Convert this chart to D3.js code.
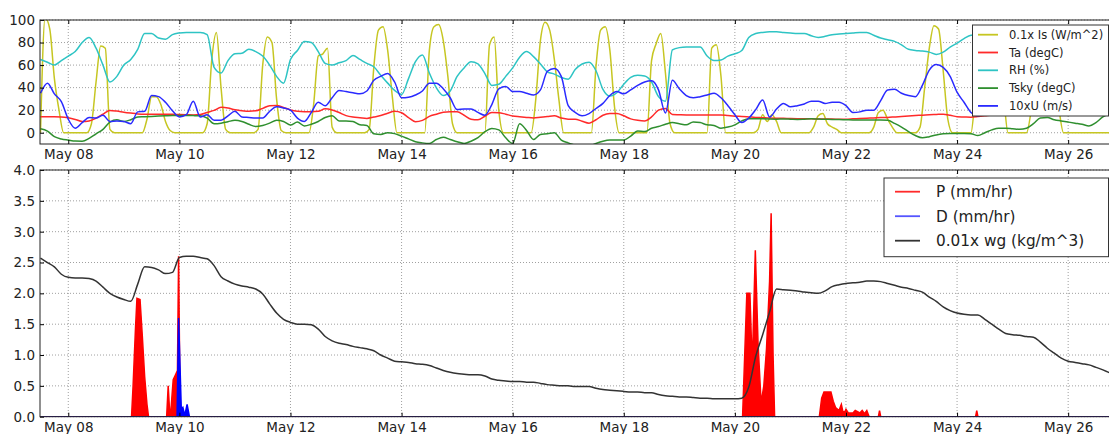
<!DOCTYPE html>
<html><head><meta charset="utf-8">
<script src="https://cdn.jsdelivr.net/npm/d3@7"></script>
<style>
body{margin:0;background:#fff;}
text{font-family:"DejaVu Sans",sans-serif;fill:#222;}
</style></head><body>
<svg id="c" width="1109" height="434"></svg>
<script>
// ---------------- DATA ----------------
const gridStart = "2013-05-07 12:00";   // 3-hour grid for Ta, RH, Tsky, U, wg
const gridStepHours = 3;
const isStart = "2013-05-07 12:00";     // 2-hour grid for Is
const isStepHours = 2;

const Ta = [
14.2,14.2,14.2,14.0,13.2,11.8,10,10.5,12.9,16.4,
19.8,19.2,18.2,17.4,16.7,16.5,16.5,16.4,16.3,16.3,
16.1,16,15.8,16.1,18,19.8,22.5,22,20.3,19.6,
19,19.4,21.6,24,24.2,22.4,20.2,19,18.6,18.6,
19,21.2,20.2,17.9,15.2,13.9,13.3,12.7,13.9,15.2,
17.3,19,17.7,13.5,9.8,11,14.5,16.4,18.2,18.6,
18.6,15.5,12,11.5,14.6,17.9,17.8,16.4,14.9,14.2,
13.6,13.1,13.7,14.3,15,13,12,12,10.2,8.5,
11.5,15.5,17,17,15,12.3,11,10.4,14,20,
21.5,16.2,16,15.8,15.7,15.7,15.7,15.7,15.7,15.2,
14.7,14.4,14,13.6,13.3,13,12.9,12.8,12.6,12.5,
12.4,12.3,12.2,12.1,12.1,12,12,12.3,12.6,12.9,
13.1,13.4,13.6,14,14.4,14.9,15.3,15.6,16,16.2,
16.4,15.5,14.2,14,13.8,14.3,15,15.8,16,16.2,
16.3,16.2,16,15.8,15.6,15.5,15.6,15.8,16,16.2,
16.3,16.2,16,15.8,15.6];

const RH = [
65,62.5,60,64,68,72,80,84.5,75,60,
45,50,60,65,74,88,88,84,83,87,
88.5,89,89,89,87,58,53,64,70,70.5,
74,72,68,60,50,44,65,73,81,80,
72,61.5,60,62,64,68.5,65,61.5,58.5,51,
44,37.5,34,48,63,69,53,40,33,37,
50,57.5,63,61,52.5,42,43,50,57.5,67,
72,67.5,61,54,52,49,47.5,56,61,62.5,
55,38.5,32.5,35.5,43,49,51,50.3,45,32,
28,73.5,75.5,76,76,76,68,64,64.5,68,
70,73,84.5,88,89,89.5,89.5,89,88.5,88,
88,86,84.5,85.5,87,87.5,88,88.5,89,89,
86.5,84,82.5,81,78,74,73,72.5,71.5,69.5,
71.5,76,79.5,83.5,86.5,87,86,84,82,80,
78,76,77,80,84,86,87,86,84,82,
80,79,80,82,84];

const Tsky = [
3.5,1.5,-3.5,-5.5,-6.5,-7.4,-7.5,-5,-1,3,
9.5,11.5,10,11.5,14,14.2,14.5,14.8,15,15.2,
15.3,15.3,15.2,15,13,8,8.5,9.8,11,10,
7.5,5.5,6.5,8.5,11,10,6.8,9.5,6,7.5,
10,13.5,15,10.5,10.5,10,7,6.5,-1,-1.5,
0,-0.8,-3,-5.5,-8,-9,-9.5,-6,-4,-6,
-8,-9.5,-7.5,-4.4,0.9,3.8,2.5,-4.5,-9.5,8,
2,-6,-1.5,-1,0,-6.5,-9,-11,-13,-12,
-9.5,-7.5,-6.5,-6.5,-6.5,-3,1.5,1,4,5.5,
7.5,9,8,7,9.5,9,7,6.5,4,5,
7,10.5,12.5,12.5,12.3,12.1,12,12.2,12,11.8,
12,12.3,12.1,12,11.8,11.7,11.5,11.4,11.3,11.2,
11.2,11.2,11,8.3,5,1,-2.5,-4.5,-3.5,-2,
-1,-0.6,-0.6,-0.6,-0.8,-2.5,0,2.5,4,4,
3.5,3,4,8,13,13.5,11.5,10.5,9.5,8.5,
7.5,6,9,14,17];

const U10 = [
35,44,34.5,27.5,12,4,8.9,13.5,13,15.5,
10,10.5,10,8,18.5,19,33,32,27,19.5,
14,16,28,14,16,11,11,15,19,14,
13.5,13,13,19,23,22,20,13,10,18,
27,24,31,37.5,36.5,35.5,34.5,37,46.5,50,
52.5,45,31,31.5,33.5,37,44,44,39,31,
20.5,21,21,18,15.5,25,39,41,36.5,36.5,
35,33.5,38,54.5,57,50,24,18,15,17,
21.5,26,33,36.5,34.5,38,42,45,46,38,
17.5,46.5,39,33,31,32,33.5,35,31,24,
16,9,13,20.5,29,14,21,26,23,24,
25.5,28,28,26,27,27,24,18,18.5,20,
20,28.5,38,38.5,35,33,32,42,55.5,60.5,
58,50,36,27,18,15,17,19,21,22,
24,22,20,18,17,18,20,22,24,25,
24,22,20,19,18];

const Is01 = [
/* May 07 12-22h */ 0,102,92,48,20,0,
/* May 08 */ 0,0,0,0,0,8,45,77,75,3,0,0,
/* May 09 */ 0,0,0,0,0,12,32,32,25,10,2,0,
/* May 10 */ 0,0,0,0,0,0,8,65,89,40,3,0,
/* May 11 */ 0,0,0,0,0,3,60,85,80,30,2,0,
/* May 12 */ 0,0,0,0,0,25,68,70,75,5,0,0,
/* May 13 */ 0,0,0,0,0,3,58,91,94,73,32,0,
/* May 14 */ 0,0,0,0,0,0,73,94,96,82,50,8,
/* May 15 */ 0,0,0,0,0,0,0,78,85,20,0,0,
/* May 16 */ 0,0,0,0,0,30,82,98,91,65,29,0,
/* May 17 */ 0,0,0,0,0,0,59,91,94,73,23,0,
/* May 18 */ 0,0,0,0,0,0,64,79,88,53,8,0,
/* May 19 */ 0,0,0,0,0,0,0,75,78,50,0,0,
/* May 20 */ 0,0,0,0,0,3,16,10,16,10,0,0,
/* May 21 */ 0,0,0,0,0,5,15,17,8,5,3,0,
/* May 22 */ 0,0,0,0,0,0,5,18,20,12,5,0,
/* May 23 */ 0,0,0,0,5,40,75,95,92,55,12,0,
/* May 24 */ 0,0,0,0,35,65,80,85,80,65,35,0,
/* May 25 */ 0,0,0,0,20,60,80,85,80,60,22,0,
/* May 26 0-18h */ 0,0,0,0,0,0,0,0,0,0];

const wg01 = [
2.57,2.5,2.43,2.31,2.26,2.25,2.25,2.24,2.2,2.1,
2.0,1.94,1.9,1.87,2.15,2.43,2.42,2.38,2.32,2.34,
2.58,2.6,2.6,2.58,2.56,2.45,2.27,2.2,2.15,2.12,
2.1,2.07,1.99,1.83,1.68,1.58,1.53,1.5,1.5,1.49,
1.42,1.3,1.23,1.19,1.17,1.14,1.12,1.1,1.07,1.0,
0.95,0.9,0.89,0.88,0.86,0.85,0.83,0.79,0.75,0.72,
0.7,0.69,0.68,0.68,0.66,0.61,0.59,0.58,0.57,0.57,
0.56,0.56,0.54,0.52,0.51,0.5,0.5,0.49,0.49,0.49,
0.46,0.44,0.43,0.42,0.41,0.4,0.4,0.39,0.39,0.36,
0.34,0.33,0.32,0.32,0.31,0.3,0.3,0.29,0.29,0.29,
0.29,0.3,0.48,0.98,1.33,1.7,2.07,2.06,2.05,2.04,
2.02,2.01,2.0,2.04,2.11,2.14,2.16,2.17,2.18,2.2,
2.2,2.19,2.16,2.13,2.1,2.08,2.05,2.02,1.94,1.87,
1.78,1.72,1.68,1.66,1.65,1.65,1.58,1.5,1.42,1.35,
1.33,1.32,1.3,1.29,1.21,1.11,1.03,0.95,0.9,0.88,
0.86,0.84,0.8,0.76,0.71];

const pTimes = [
"2013-05-07 12:00",
"2013-05-09 03:20","2013-05-09 04:00","2013-05-09 05:00","2013-05-09 05:40","2013-05-09 07:00","2013-05-09 08:00","2013-05-09 09:00","2013-05-09 10:00","2013-05-09 10:40",
"2013-05-09 18:30","2013-05-09 19:10","2013-05-09 19:50","2013-05-09 20:20","2013-05-09 21:20","2013-05-09 22:20","2013-05-09 23:10","2013-05-09 23:40","2013-05-10 00:20",
"2013-05-20 03:20","2013-05-20 05:10","2013-05-20 06:30","2013-05-20 07:30","2013-05-20 08:50","2013-05-20 10:00","2013-05-20 11:20","2013-05-20 12:30","2013-05-20 13:40","2013-05-20 15:00","2013-05-20 15:40","2013-05-20 16:30","2013-05-20 17:10",
"2013-05-21 12:30","2013-05-21 13:30","2013-05-21 14:30","2013-05-21 17:30","2013-05-21 18:30","2013-05-21 19:30","2013-05-21 21:00","2013-05-21 22:00","2013-05-21 22:40","2013-05-21 23:30",
"2013-05-22 00:00","2013-05-22 01:00","2013-05-22 02:00","2013-05-22 03:00","2013-05-22 04:00","2013-05-22 05:00","2013-05-22 06:00","2013-05-22 07:00","2013-05-22 08:00","2013-05-22 09:00","2013-05-22 10:00",
"2013-05-22 14:00","2013-05-22 14:30","2013-05-22 15:00",
"2013-05-24 08:00","2013-05-24 08:30","2013-05-24 09:00",
"2013-05-26 18:00"];
const pVals = [
0,
0,0.5,1.4,1.92,1.9,1.3,0.65,0.2,0,
0,0.5,0.05,0.1,0.6,0.68,0.75,2.6,0,
0,2.0,2.0,0.8,2.7,1.2,0.22,0.5,1.1,2.2,3.3,1.0,0,
0,0.3,0.4,0.4,0.25,0.15,0.1,0.2,0.08,0.08,
0.12,0.06,0.06,0.06,0.1,0.08,0.06,0.1,0.05,0.1,0,
0,0.1,0,
0,0.1,0,
0];

const dTimes = ["2013-05-07 12:00","2013-05-09 23:00","2013-05-09 23:40","2013-05-10 00:50","2013-05-10 01:30","2013-05-10 02:20","2013-05-10 03:20","2013-05-10 04:20","2013-05-26 18:00"];
const dVals  = [0,0,1.6,0.12,0.15,0.02,0.2,0,0];

const xTickLabels = ["May 08","May 10","May 12","May 14","May 16","May 18","May 20","May 22","May 24","May 26"];
const xTickDates = ["2013-05-08","2013-05-10","2013-05-12","2013-05-14","2013-05-16","2013-05-18","2013-05-20","2013-05-22","2013-05-24","2013-05-26"];
const topYTicks = [0,20,40,60,80,100];
const botYTicks = [0,0.5,1,1.5,2,2.5,3,3.5,4];
const topLegend = ["0.1x Is (W/m^2)","Ta (degC)","RH (%)","Tsky (degC)","10xU (m/s)"];
const botLegend = ["P (mm/hr)","D (mm/hr)","0.01x wg (kg/m^3)"];

// ---------------- CHART ----------------
(function(){
const parseT = d3.utcParse("%Y-%m-%d %H:%M");
const parseD = d3.utcParse("%Y-%m-%d");
const HR = 3600*1000;
const g0 = +parseT(gridStart), i0 = +parseT(isStart);
const gridT = i => new Date(g0 + i*gridStepHours*HR);
const isT = i => new Date(i0 + i*isStepHours*HR);

const svg = d3.select("#c");
const L = 40, R = 1114;
const pTop = {y0:20, y1:144}, pBot = {y0:170, y1:416.7};
const x = d3.scaleUtc().domain([parseT("2013-05-07 11:47"), parseT("2013-05-26 19:48")]).range([L, R]);
const yT = d3.scaleLinear().domain([-10,100]).range([pTop.y1, pTop.y0]);
const yB = d3.scaleLinear().domain([0,4]).range([pBot.y1, pBot.y0]);
const tickDates = xTickDates.map(parseD);

const defs = svg.append("defs");
defs.append("clipPath").attr("id","clipT").append("rect").attr("x",L).attr("y",pTop.y0).attr("width",R-L).attr("height",pTop.y1-pTop.y0);
defs.append("clipPath").attr("id","clipB").append("rect").attr("x",L).attr("y",pBot.y0-2).attr("width",R-L).attr("height",pBot.y1-pBot.y0+2);

function grid(panel, y, yticks){
  const gg = svg.append("g").attr("stroke","#777").attr("stroke-width",0.7).attr("stroke-dasharray","1,2");
  tickDates.forEach(d=>gg.append("line").attr("x1",x(d)).attr("x2",x(d)).attr("y1",panel.y0).attr("y2",panel.y1));
  yticks.forEach(v=>gg.append("line").attr("x1",L).attr("x2",R).attr("y1",y(v)).attr("y2",y(v)));
}
grid(pTop, yT, topYTicks);
grid(pBot, yB, botYTicks);

const topSeries = [
  {vals:Is01, t:isT, color:"#c6c622"},
  {vals:Ta, t:gridT, color:"#ff2a2a"},
  {vals:RH, t:gridT, color:"#2ec4c4"},
  {vals:Tsky, t:gridT, color:"#2f8f2f"},
  {vals:U10, t:gridT, color:"#2a2aff"}
];
const gT = svg.append("g").attr("clip-path","url(#clipT)");
topSeries.forEach(s=>{
  const line = d3.line().x((d,i)=>x(s.t(i))).y(d=>yT(d)).curve(d3.curveMonotoneX);
  gT.append("path").attr("d",line(s.vals)).attr("fill","none").attr("stroke",s.color).attr("stroke-width",1.5);
});

const gB = svg.append("g").attr("clip-path","url(#clipB)");
function areaSeries(times, vals, color){
  const data = times.map((t,i)=>({t:parseT(t), v:vals[i]}));
  const area = d3.area().x(d=>x(d.t)).y0(yB(0)).y1(d=>yB(d.v));
  const line = d3.line().x(d=>x(d.t)).y(d=>yB(d.v));
  gB.append("path").attr("d",area(data)).attr("fill",color).attr("stroke","none");
  gB.append("path").attr("d",line(data)).attr("fill","none").attr("stroke",color).attr("stroke-width",1.5);
}
areaSeries(pTimes,pVals,"#ff0000");
areaSeries(dTimes,dVals,"#0000ff");
const wgLine = d3.line().x((d,i)=>x(gridT(i))).y(d=>yB(d)).curve(d3.curveMonotoneX);
gB.append("path").attr("d",wgLine(wg01)).attr("fill","none").attr("stroke","#333").attr("stroke-width",1.5);

const fmt = (d,i)=>xTickLabels[i];
function axes(panel, y, yticks, yfmt){
  svg.append("g").attr("transform",`translate(0,${panel.y1})`)
    .call(d3.axisBottom(x).tickValues(tickDates).tickFormat(fmt).tickSize(-4).tickPadding(5.5))
    .call(g=>{g.select(".domain").remove(); g.selectAll("text").style("font-size","13.5px").attr("fill","#222");});
  svg.append("g").attr("transform",`translate(0,${panel.y0})`)
    .call(d3.axisTop(x).tickValues(tickDates).tickFormat("").tickSize(-4))
    .call(g=>g.select(".domain").remove());
  svg.append("g").attr("transform",`translate(${L},0)`)
    .call(d3.axisLeft(y).tickValues(yticks).tickFormat(yfmt).tickSize(-4).tickPadding(5))
    .call(g=>{g.select(".domain").remove(); g.selectAll("text").style("font-size","13.5px").attr("fill","#222");});
  svg.append("rect").attr("x",L).attr("y",panel.y0).attr("width",R-L).attr("height",panel.y1-panel.y0)
    .attr("fill","none").attr("stroke","#222").attr("stroke-width",1);
}
axes(pTop, yT, topYTicks, d3.format("d"));
axes(pBot, yB, botYTicks, d3.format(".1f"));

function legend(x0,y0,w,h,rows,dy,colors,lx1,lx2,tx,fs){
  const g = svg.append("g");
  g.append("rect").attr("x",x0).attr("y",y0).attr("width",w).attr("height",h).attr("fill","#fff").attr("stroke","#333").attr("stroke-width",1);
  rows.forEach((r,i)=>{
    const yy = y0 + dy[0] + i*dy[1];
    g.append("line").attr("x1",lx1).attr("x2",lx2).attr("y1",yy).attr("y2",yy).attr("stroke",colors[i]).attr("stroke-width",1.8);
    g.append("text").attr("x",tx).attr("y",yy).attr("dy","0.36em").style("font-size",fs).text(r);
  });
}
legend(972.5,25,136,91,topLegend,[9.7,17.8],topSeries.map(s=>s.color),978,998,1009,"11.5px");
legend(884,178,224.5,78.7,botLegend,[13.7,24.5],["#ff2a2a","#5555ff","#333"],895,920,936,"15.3px");
})();
</script>
</body></html>
